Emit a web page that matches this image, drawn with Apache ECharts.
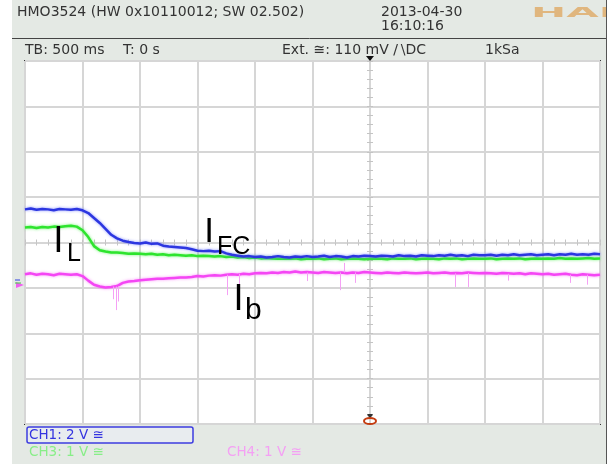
<!DOCTYPE html>
<html>
<head>
<meta charset="utf-8">
<script src="https://cdn.jsdelivr.net/npm/echarts@6/dist/echarts.min.js"></script>
<style>
  html, body { margin: 0; padding: 0; background: #fff; }
  #main { width: 610px; height: 464px; }
</style>
</head>
<body>
<div id="main"></div>
<script>
// time base: one sample every 0.05 s (0.1 div at 500 ms/div), first one at -3 s
const t0 = -3.0;
const dt = 0.05;

// traces in divisions (0 = centre line)
const iFC = [
  0.73, 0.75, 0.72, 0.74, 0.73, 0.71, 0.74, 0.73, 0.72, 0.74,
  0.71, 0.65, 0.54, 0.43, 0.30, 0.17, 0.09, 0.04, 0.01, -0.01,
  -0.02, 0.00, -0.03, -0.02, -0.07, -0.09, -0.10, -0.11, -0.12, -0.15,
  -0.18, -0.19, -0.18, -0.20, -0.19, -0.24, -0.27, -0.29, -0.31, -0.30,
  -0.32, -0.31, -0.33, -0.32, -0.30, -0.32, -0.33, -0.31, -0.32, -0.30,
  -0.32, -0.31, -0.29, -0.32, -0.30, -0.31, -0.33, -0.30, -0.31, -0.29,
  -0.30, -0.31, -0.29, -0.30, -0.31, -0.28, -0.30, -0.29, -0.31, -0.28,
  -0.29, -0.30, -0.28, -0.29, -0.27, -0.29, -0.28, -0.30, -0.27, -0.28,
  -0.28, -0.27, -0.29, -0.27, -0.28, -0.26, -0.28, -0.27, -0.26, -0.28,
  -0.27, -0.26, -0.28, -0.26, -0.27, -0.25, -0.27, -0.26, -0.27, -0.25,
  -0.26
];
const iL = [
  0.33, 0.34, 0.32, 0.34, 0.33, 0.35, 0.34, 0.36, 0.37, 0.35,
  0.27, 0.12, -0.08, -0.17, -0.20, -0.22, -0.22, -0.23, -0.25, -0.24,
  -0.25, -0.26, -0.25, -0.27, -0.26, -0.28, -0.27, -0.28, -0.29, -0.28,
  -0.30, -0.29, -0.30, -0.31, -0.30, -0.32, -0.31, -0.33, -0.32, -0.34,
  -0.33, -0.35, -0.34, -0.35, -0.36, -0.35, -0.36, -0.35, -0.37, -0.36,
  -0.36, -0.35, -0.37, -0.36, -0.35, -0.37, -0.36, -0.35, -0.36, -0.37,
  -0.36, -0.35, -0.36, -0.37, -0.35, -0.36, -0.36, -0.35, -0.37, -0.36,
  -0.35, -0.36, -0.37, -0.35, -0.36, -0.35, -0.37, -0.36, -0.35, -0.36,
  -0.36, -0.35, -0.37, -0.36, -0.35, -0.36, -0.35, -0.37, -0.36, -0.35,
  -0.36, -0.35, -0.36, -0.34, -0.36, -0.35, -0.36, -0.35, -0.34, -0.36,
  -0.35
];
const ib = [
  -0.70, -0.68, -0.71, -0.69, -0.70, -0.72, -0.69, -0.70, -0.71, -0.70,
  -0.74, -0.84, -0.93, -0.97, -0.99, -0.98, -0.96, -0.89, -0.86, -0.85,
  -0.83, -0.82, -0.81, -0.80, -0.80, -0.79, -0.78, -0.77, -0.77, -0.76,
  -0.74, -0.75, -0.73, -0.72, -0.73, -0.71, -0.70, -0.71, -0.69, -0.70,
  -0.68, -0.67, -0.68, -0.66, -0.67, -0.65, -0.66, -0.64, -0.66, -0.65,
  -0.66, -0.67, -0.65, -0.66, -0.67, -0.66, -0.68, -0.66, -0.67, -0.65,
  -0.66, -0.67, -0.68, -0.66, -0.67, -0.68, -0.66, -0.67, -0.68, -0.67,
  -0.66, -0.68, -0.67, -0.66, -0.68, -0.67, -0.68, -0.66, -0.67, -0.68,
  -0.67, -0.68, -0.69, -0.67, -0.68, -0.69, -0.68, -0.70, -0.68, -0.69,
  -0.70, -0.69, -0.71, -0.70, -0.69, -0.71, -0.72, -0.70, -0.71, -0.72,
  -0.71
];
// glitches on CH4: [time s, from div, to div]
const ibSpikes = [
  [-2.235, -0.97, -1.25], [-2.21, -0.97, -1.49], [-2.185, -0.96, -1.30],
  [-1.245, -0.71, -1.16], [-1.14, -0.69, -0.98], [-0.55, -0.66, -0.85],
  [-0.26, -0.66, -1.05], [-0.22, -0.66, -0.45], [-0.13, -0.66, -0.89],
  [0.74, -0.68, -0.98], [0.85, -0.67, -0.98], [1.2, -0.69, -0.84],
  [1.74, -0.71, -0.89], [1.885, -0.71, -0.93]
];

function pairs(vals) {
  return vals.map((v, i) => [+(t0 + i * dt).toFixed(3), v]);
}

const gridLine = { show: true, lineStyle: { color: '#d6d6d6', width: 2 } };
const tickStyle = { color: '#c4c4c4', width: 1 };

// centre-line ticks, one axis for each side of the line
function centreX(pos) {
  return {
    type: 'value', min: -3, max: 2, interval: 0.5, position: pos, offset: -181.5,
    axisLine: { show: false }, splitLine: { show: false }, axisLabel: { show: false },
    axisTick: { show: true, length: 3, lineStyle: tickStyle },
    minorTick: { show: true, splitNumber: 5, length: 3, lineStyle: tickStyle }
  };
}
function centreY(pos, off) {
  return {
    type: 'value', min: -4, max: 4, interval: 1, position: pos, offset: off,
    axisLine: { show: false }, splitLine: { show: false }, axisLabel: { show: false },
    axisTick: { show: true, length: 3, lineStyle: tickStyle },
    minorTick: { show: true, splitNumber: 5, length: 3, lineStyle: tickStyle }
  };
}

function trace(name, vals, color, glow) {
  return {
    name: name, type: 'line', data: pairs(vals), showSymbol: false,
    xAxisIndex: 0, yAxisIndex: 0,
    lineStyle: { color: color, width: 2.5, shadowBlur: 3, shadowColor: glow }
  };
}

const txt = (text, x, y, size, color, extra) => Object.assign({
  type: 'text', z: 100,
  style: {
    text: text, x: x, y: y, fill: color,
    font: size + 'px "DejaVu Sans"', verticalAlign: 'middle', align: 'left'
  }
}, extra || {});
const lbl = (text, x, y, size, align) => ({
  type: 'text', z: 100,
  style: { text: text, x: x, y: y, fill: '#000', font: size + 'px "Liberation Sans"',
           verticalAlign: 'middle', align: align }
});

const chart = echarts.init(document.getElementById('main'));
chart.setOption({
  animation: false,
  backgroundColor: '#e4e9e4',
  grid: { left: 25, top: 61, width: 575, height: 363, show: true,
          backgroundColor: '#fff', borderColor: '#333', borderWidth: 2 },
  xAxis: [
    { type: 'value', min: -3, max: 2, interval: 0.5, splitLine: gridLine,
      axisLine: { show: false }, axisTick: { show: false }, axisLabel: { show: false } },
    centreX('top'), centreX('bottom')
  ],
  yAxis: [
    { type: 'value', min: -4, max: 4, interval: 1, splitLine: gridLine,
      axisLine: { show: false }, axisTick: { show: false }, axisLabel: { show: false } },
    centreY('left', -345), centreY('right', -230)
  ],
  series: [
    trace('CH3', iL, '#2ee42e', 'rgba(60,240,60,0.7)'),
    trace('CH1', iFC, '#2c36e0', 'rgba(110,120,255,0.8)'),
    Object.assign(trace('CH4', ib, '#f446f4', 'rgba(250,120,250,0.8)'), {
      markLine: {
        silent: true, symbol: 'none', label: { show: false },
        lineStyle: { color: '#f5a0f5', width: 1, type: 'solid' },
        data: ibSpikes.map(s => [{ coord: [s[0], s[1]] }, { coord: [s[0], s[2]] }])
      }
    })
  ],
  graphic: [
    // screen edges
    { type: 'rect', z: 100, shape: { x: 0, y: 0, width: 12, height: 464 }, style: { fill: '#fff' } },
    { type: 'line', z: 100, shape: { x1: 12, y1: 38.5, x2: 607, y2: 38.5 }, style: { stroke: '#444', lineWidth: 1 } },
    // header
    txt('HMO3524 (HW 0x10110012; SW 02.502)', 17, 12.5, 14, '#333'),
    txt('2013-04-30', 381, 12.5, 14, '#333'),
    txt('16:10:16', 381, 26, 14, '#333'),
    txt('HAMEG', 0, 0, 14, '#e0b67e', { x: 531, y: 13.5, scaleX: 3, style: {
      text: 'HAMEG', x: 0, y: 0, fill: '#e0b67e', font: 'bold 14px "DejaVu Sans"',
      verticalAlign: 'middle', align: 'left' } }),
    { type: 'rect', z: 101, shape: { x: 607, y: 0, width: 3, height: 464 }, style: { fill: '#fff' } },
    { type: 'line', z: 101, shape: { x1: 606.5, y1: 0, x2: 606.5, y2: 464 }, style: { stroke: '#555', lineWidth: 1 } },
    txt('TB: 500 ms', 25, 50, 14, '#333'),
    txt('T: 0 s', 123, 50, 14, '#333'),
    txt('Ext. \u2245: 110 mV /\u2009\\DC', 282, 50, 14, '#333'),
    txt('1kSa', 485, 50, 14, '#333'),
    { type: 'polygon', z: 100, shape: { points: [[366, 56], [374, 56], [370, 61]] }, style: { fill: '#111' } },
    // trigger position marker
    { type: 'polygon', z: 100, shape: { points: [[367, 414], [373, 414], [370, 419]] }, style: { fill: '#333' } },
    { type: 'ellipse', z: 100, shape: { cx: 370, cy: 421, rx: 6, ry: 3 }, style: { fill: 'none', stroke: '#c43c10', lineWidth: 2 } },
    // ground reference markers
    { type: 'polygon', z: 100, shape: { points: [[16, 282], [24, 285], [16, 288]] }, style: { fill: '#f060f0' } },
    { type: 'line', z: 100, shape: { x1: 15, y1: 283, x2: 21, y2: 283 }, style: { stroke: '#40d040', lineWidth: 1 } },
    { type: 'line', z: 100, shape: { x1: 15, y1: 280, x2: 20, y2: 280 }, style: { stroke: '#3040e0', lineWidth: 1 } },
    // channel status
    { type: 'rect', z: 100, shape: { x: 27, y: 427, width: 166, height: 16, r: 2 },
      style: { fill: '#e8ecef', stroke: '#3c3ce0', lineWidth: 1.5 } },
    txt('CH1: 2 V \u2245', 29, 435.5, 13.5, '#3434e0'),
    txt('CH3: 1 V \u2245', 29, 452, 13.5, '#88ee88'),
    txt('CH4: 1 V \u2245', 227, 452, 13.5, '#f4a0f4'),
    // trace names
    lbl('I', 58.5, 241.5, 37, 'center'),
    lbl('L', 67, 254, 25, 'left'),
    lbl('I', 209, 232.5, 35, 'center'),
    lbl('FC', 217, 247, 25, 'left'),
    lbl('I', 238.5, 300, 36, 'center'),
    lbl('b', 245, 311, 30, 'left')
  ]
});
</script>
</body>
</html>
